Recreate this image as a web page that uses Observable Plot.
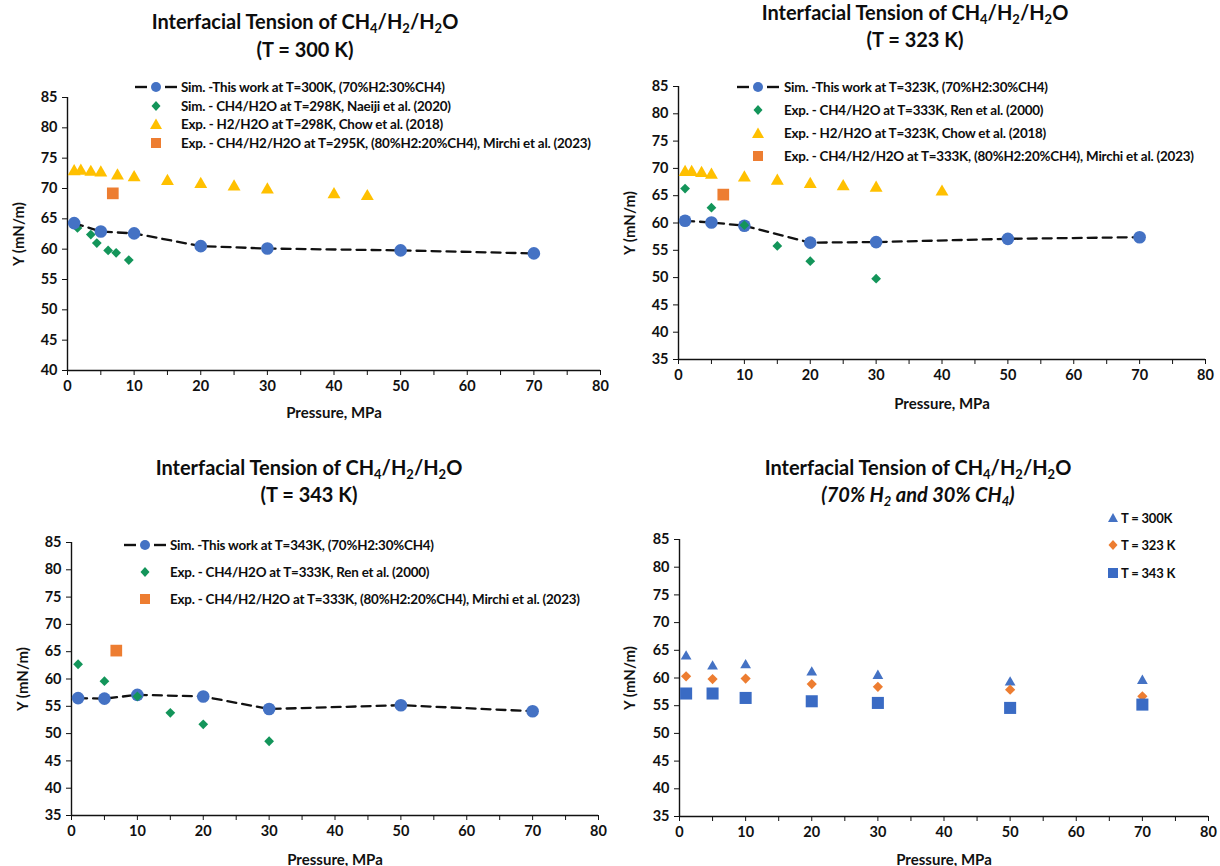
<!DOCTYPE html>
<html><head><meta charset="utf-8">
<script src="https://cdn.jsdelivr.net/npm/d3@7"></script>
<script src="https://cdn.jsdelivr.net/npm/@observablehq/plot@0.6"></script>
<style>
body{margin:0;background:#fff;font-family:Lato,"Open Sans",sans-serif;}
#root{position:relative;width:1220px;height:866px;overflow:hidden;background:#fff;}
.title{position:absolute;font-weight:bold;font-size:20px;color:#0d0d0d;white-space:nowrap;transform:translateX(-50%);line-height:22px;z-index:3;}
.title sub{font-size:0.65em;vertical-align:-0.3em;line-height:0;}
.ltext{position:absolute;font-weight:bold;font-size:13.4px;color:#0d0d0d;white-space:nowrap;line-height:16px;z-index:3;letter-spacing:-0.2px;}
.lsym{position:absolute;z-index:3;}
svg.plot{position:absolute;z-index:1;}
</style></head>
<body><div id="root"></div>
<script>
// ---------- data ----------
const xTicks = [0,5,10,15,20,25,30,35,40,45,50,55,60,65,70,75,80];
const xTickLabels = [0,10,20,30,40,50,60,70,80];
const yTicksA = [40,45,50,55,60,65,70,75,80,85];
const yTicksB = [35,40,45,50,55,60,65,70,75,80,85];

const simPressure = [1,5,10,20,30,50,70];

// Panel 1 : T = 300 K
const sim300 = [64.3,62.9,62.6,60.5,60.1,59.8,59.3];
const naeijiP = [1.5,3.5,4.4,6.1,7.3,9.2];
const naeijiY = [63.5,62.4,61.0,59.8,59.4,58.2];
const chow298P = [1,2,3.5,5,7.5,10,15,20,25,30,40,45];
const chow298Y = [72.8,72.9,72.7,72.6,72.1,71.8,71.2,70.7,70.3,69.8,69.0,68.7];
const mirchi295P = [6.8];
const mirchi295Y = [69.2];

// Panel 2 : T = 323 K
const sim323 = [60.4,60.1,59.5,56.4,56.5,57.1,57.4];
const renP = [1,5,10,15,20,30];
const ren333Y_a = [66.3,62.8,59.6,55.8,53.0,49.8];
const chow323P = [1,2,3.5,5,10,15,20,25,30,40];
const chow323Y = [69.3,69.3,69.1,68.8,68.3,67.7,67.1,66.7,66.4,65.7];
const mirchi333P = [6.8];
const mirchi333Y = [65.2];

// Panel 3 : T = 343 K
const sim343 = [56.5,56.4,57.1,56.8,54.5,55.2,54.1];
const ren333Y_b = [62.7,59.6,56.8,53.8,51.7,48.6];

// Panel 4 : 70% H2 / 30% CH4
const t300 = [63.9,62.1,62.3,61.0,60.4,59.2,59.5];
const t323 = [60.3,59.8,59.9,58.9,58.4,57.9,56.7];
const t343 = [57.2,57.2,56.4,55.8,55.5,54.6,55.2];

// ---------- styling ----------
const BLUE="#4472C4", GREEN="#13955A", YELLOW="#FFC000", ORANGE="#ED7D31", BLUE2="#3A6BC4", INK="#111111";
const rows = (xs, ys) => xs.map((x, i) => ({x, y: ys[i]}));
const root = document.getElementById("root");

function makePanel(c) {
  const chart = Plot.plot({
    width: c.width, height: c.height,
    marginLeft: c.pl - c.left, marginRight: c.left + c.width - c.pr,
    marginTop: c.pt - c.top, marginBottom: c.top + c.height - c.pb,
    x: {domain: [0, 80]},
    y: {domain: c.yDomain},
    style: {fontFamily: "Lato, sans-serif", fontSize: "14.5px", fontWeight: "bold", color: INK, background: "transparent", overflow: "visible"},
    marks: [
      Plot.ruleY([c.yDomain[0]], {stroke: INK, strokeWidth: 1.4}),
      Plot.ruleX([0], {stroke: INK, strokeWidth: 1.4}),
      Plot.axisX({ticks: xTicks, tickFormat: d => xTickLabels.includes(d) ? String(d) : "", tickSize: 5, tickPadding: 5, label: null}),
      Plot.axisY({ticks: c.yTicks, tickSize: 5, tickPadding: 5, label: null}),
      Plot.axisX({ticks: [], tickSize: 0, label: "Pressure, MPa", labelAnchor: "center", labelArrow: "none", labelOffset: c.xlo, fontSize: 15}),
      Plot.axisY({ticks: [], tickSize: 0, label: "Y (mN/m)", labelAnchor: "center", labelArrow: "none", labelOffset: c.ylo, fontSize: 15}),
      ...c.marks
    ]
  });
  chart.classList.add("plot");
  chart.style.left = c.left + "px"; chart.style.top = c.top + "px";
  root.appendChild(chart);
}

function title(cx, y, html, italic) {
  const d = document.createElement("div");
  d.className = "title"; d.innerHTML = html;
  d.style.left = cx + "px"; d.style.top = (y - 11) + "px";
  if (italic) d.style.fontStyle = "italic";
  root.appendChild(d);
}

function symbol(kind, color) {
  switch (kind) {
    case "sim": return `<line x1="-21" x2="-9" y1="0" y2="0" stroke="#111" stroke-width="2.4"/><line x1="9" x2="21" y1="0" y2="0" stroke="#111" stroke-width="2.4"/><circle r="5" fill="${color}"/>`;
    case "diamond": return `<polygon points="0,-5 4.5,0 0,5 -4.5,0" fill="${color}"/>`;
    case "triangle": return `<polygon points="0,-5.5 6,5 -6,5" fill="${color}"/>`;
    case "triangleS": return `<polygon points="0,-5 5,4 -5,4" fill="${color}"/>`;
    case "square": return `<rect x="-5" y="-5" width="10" height="10" fill="${color}"/>`;
  }
}
function legendRow(cx, cy, kind, color, tx, text, fs) {
  const s = document.createElementNS("http://www.w3.org/2000/svg", "svg");
  s.setAttribute("class", "lsym"); s.setAttribute("width", 44); s.setAttribute("height", 14);
  s.setAttribute("viewBox", "-22 -7 44 14");
  s.style.left = (cx - 22) + "px"; s.style.top = (cy - 7) + "px";
  s.innerHTML = symbol(kind, color);
  root.appendChild(s);
  const t = document.createElement("div");
  t.className = "ltext"; t.textContent = text;
  t.style.left = tx + "px"; t.style.top = (cy - 8) + "px";
  if (fs) t.style.fontSize = fs;
  root.appendChild(t);
}

const simMarks = (ys) => [
  Plot.line(rows(simPressure, ys), {x: "x", y: "y", stroke: "#111", strokeWidth: 2.3, strokeDasharray: "9,6"}),
  Plot.dot(rows(simPressure, ys), {x: "x", y: "y", r: 6.3, fill: BLUE, symbol: "circle"})
];

const H = "Interfacial Tension of CH<sub>4</sub>/H<sub>2</sub>/H<sub>2</sub>O";

// ---------- Panel 1 ----------
makePanel({left: 0, top: 60, width: 610, height: 365, pl: 67, pr: 600, pt: 97, pb: 370,
  yDomain: [40, 85], yTicks: yTicksA, xlo: 47, ylo: 54,
  marks: [
    Plot.dot(rows(chow298P, chow298Y), {x: "x", y: "y", symbol: "triangle", r: 4.8, fill: YELLOW}),
    Plot.dot(rows(naeijiP, naeijiY), {x: "x", y: "y", symbol: "diamond2", r: 4.4, fill: GREEN}),
    ...simMarks(sim300),
    Plot.dot(rows(mirchi295P, mirchi295Y), {x: "x", y: "y", symbol: "square", r: 6.6, fill: ORANGE})
  ]});
title(305, 21, H); title(305, 49, "(T = 300 K)");
legendRow(156, 87, "sim", BLUE, 181, "Sim. -This work at T=300K, (70%H2:30%CH4)");
legendRow(156, 106, "diamond", GREEN, 181, "Sim. - CH4/H2O at T=298K, Naeiji et al. (2020)");
legendRow(156, 124, "triangle", YELLOW, 181, "Exp. - H2/H2O at T=298K, Chow et al. (2018)");
legendRow(156, 143, "square", ORANGE, 181, "Exp. - CH4/H2/H2O at T=295K, (80%H2:20%CH4), Mirchi et al. (2023)");

// ---------- Panel 2 ----------
makePanel({left: 610, top: 60, width: 610, height: 365, pl: 678, pr: 1205, pt: 86, pb: 359,
  yDomain: [35, 85], yTicks: yTicksB, xlo: 49, ylo: 54,
  marks: [
    Plot.dot(rows(chow323P, chow323Y), {x: "x", y: "y", symbol: "triangle", r: 4.8, fill: YELLOW}),
    ...simMarks(sim323),
    Plot.dot(rows(renP, ren333Y_a), {x: "x", y: "y", symbol: "diamond2", r: 4.4, fill: GREEN}),
    Plot.dot(rows(mirchi333P, mirchi333Y), {x: "x", y: "y", symbol: "square", r: 6.6, fill: ORANGE})
  ]});
title(915, 12, H); title(915, 39, "(T = 323 K)");
legendRow(758, 87, "sim", BLUE, 784, "Sim. -This work at T=323K, (70%H2:30%CH4)");
legendRow(758, 110, "diamond", GREEN, 784, "Exp. - CH4/H2O at T=333K, Ren et al. (2000)");
legendRow(758, 133, "triangle", YELLOW, 784, "Exp. - H2/H2O at T=323K, Chow et al. (2018)");
legendRow(758, 156, "square", ORANGE, 784, "Exp. - CH4/H2/H2O at T=333K, (80%H2:20%CH4), Mirchi et al. (2023)");

// ---------- Panel 3 ----------
makePanel({left: 0, top: 505, width: 610, height: 361, pl: 71, pr: 598, pt: 542, pb: 815,
  yDomain: [35, 85], yTicks: yTicksB, xlo: 49, ylo: 54,
  marks: [
    ...simMarks(sim343),
    Plot.dot(rows(renP, ren333Y_b), {x: "x", y: "y", symbol: "diamond2", r: 4.4, fill: GREEN}),
    Plot.dot(rows(mirchi333P, mirchi333Y), {x: "x", y: "y", symbol: "square", r: 6.6, fill: ORANGE})
  ]});
title(309, 467, H); title(309, 494, "(T = 343 K)");
legendRow(145, 545, "sim", BLUE, 170, "Sim. -This work at T=343K, (70%H2:30%CH4)");
legendRow(145, 572, "diamond", GREEN, 170, "Exp. - CH4/H2O at T=333K, Ren et al. (2000)");
legendRow(145, 599, "square", ORANGE, 170, "Exp. - CH4/H2/H2O at T=333K, (80%H2:20%CH4), Mirchi et al. (2023)");

// ---------- Panel 4 ----------
makePanel({left: 610, top: 505, width: 610, height: 361, pl: 679, pr: 1208, pt: 539, pb: 816,
  yDomain: [35, 85], yTicks: yTicksB, xlo: 48, ylo: 55,
  marks: [
    Plot.dot(rows(simPressure, t300), {x: "x", y: "y", symbol: "triangle", r: 4.0, fill: BLUE}),
    Plot.dot(rows(simPressure, t323), {x: "x", y: "y", symbol: "diamond2", r: 4.6, fill: ORANGE}),
    Plot.dot(rows(simPressure, t343), {x: "x", y: "y", symbol: "square", r: 6.8, fill: BLUE2})
  ]});
title(918, 467, H);
title(918, 494, "(70% H<sub>2</sub> and 30% CH<sub>4</sub>)", true);
legendRow(1113, 518, "triangleS", BLUE, 1121, "T = 300K", "13px");
legendRow(1113, 545, "diamond", ORANGE, 1121, "T = 323 K", "13px");
legendRow(1113, 573, "square", BLUE2, 1121, "T = 343 K", "13px");
</script></body></html>
